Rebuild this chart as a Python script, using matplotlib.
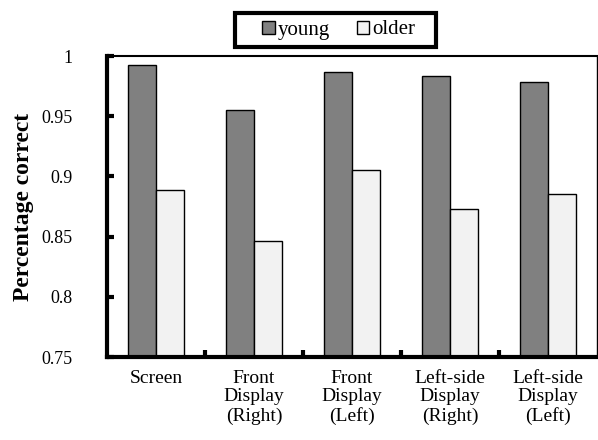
import matplotlib.pyplot as plt
import numpy as np
from matplotlib.ticker import FixedLocator
from matplotlib.patches import Rectangle

categories = ['Screen', 'Front\nDisplay\n(Right)', 'Front\nDisplay\n(Left)',
              'Left-side\nDisplay\n(Right)', 'Left-side\nDisplay\n(Left)']
young = [0.9925, 0.955, 0.987, 0.983, 0.978]
older = [0.889, 0.846, 0.905, 0.873, 0.885]
y_ticks = [0.75, 0.8, 0.85, 0.9, 0.95, 1.0]

plt.rcParams['font.family'] = ['Liberation Serif', 'DejaVu Serif']

W, H = 598, 440
fig = plt.figure(figsize=(W / 100, H / 100), dpi=100)
ax = fig.add_axes([107 / W, 1 - 357 / H, 490 / W, 301 / H])

x = np.arange(len(categories))
w = 0.29
ax.bar(x - w / 2, young, w, color='#808080', edgecolor='black', linewidth=1, label='young')
ax.bar(x + w / 2, older, w, color='#f2f2f2', edgecolor='black', linewidth=1, label='older')

ax.set_xlim(-0.5, len(categories) - 0.5)
ax.set_ylim(0.75, 1.0)
ax.set_yticks(y_ticks)
ax.set_yticklabels(['%g' % v for v in y_ticks], fontsize=13)
ax.set_xticks(x)
ax.set_xticklabels(categories, fontsize=14, linespacing=1.15)
ax.xaxis.set_minor_locator(FixedLocator(x[:-1] + 0.5))
ax.tick_params(axis='x', which='major', length=0, pad=9)
ax.tick_params(axis='x', which='minor', direction='in', length=5, width=3)
ax.tick_params(axis='y', direction='in', length=5, width=3, pad=25)

ax.spines['left'].set_linewidth(3)
ax.spines['bottom'].set_linewidth(3)
ax.spines['top'].set_linewidth(1.5)
ax.spines['right'].set_linewidth(1)

ax.set_ylabel('Percentage correct', fontsize=17, fontweight='bold', labelpad=5)

# legend box (drawn separately to get the off-centre padding of the original)
fig.patches.append(Rectangle((235 / W, 1 - 47 / H), 201 / W, 34 / H,
                             transform=fig.transFigure, facecolor='white',
                             edgecolor='black', linewidth=3, zorder=5))
leg = fig.legend(loc='center left', bbox_to_anchor=(262 / W, 1 - 30 / H), ncol=2,
                 fontsize=15, frameon=False,
                 handlelength=0.6, handleheight=0.6, handletextpad=0.15,
                 columnspacing=1.3, borderpad=0, borderaxespad=0)
leg.set_zorder(6)

fig.savefig('out.png', dpi=100)
